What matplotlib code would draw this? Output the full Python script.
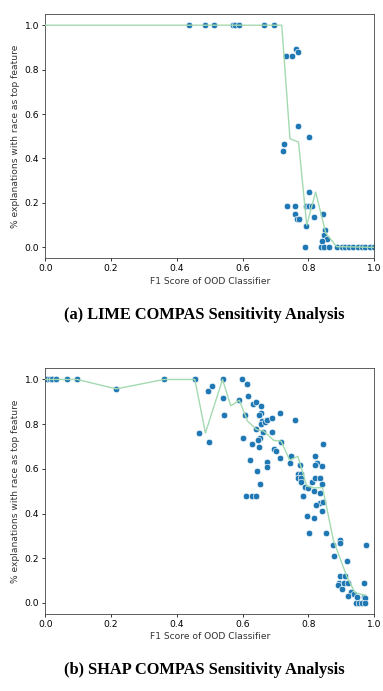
import matplotlib
matplotlib.use("Agg")
import matplotlib.pyplot as plt

# LIME panel: scatter points
lime_f1 = [0.437, 0.487, 0.513, 0.572, 0.577, 0.590, 0.664, 0.695,
           0.732, 0.750, 0.762, 0.767, 0.769, 0.803, 0.725, 0.724,
           0.735, 0.758, 0.758, 0.766, 0.772, 0.793, 0.803, 0.802, 0.812,
           0.792, 0.818, 0.843, 0.851, 0.848, 0.857, 0.842, 0.791,
           0.837, 0.848, 0.863, 0.886, 0.902, 0.912, 0.922, 0.937,
           0.952, 0.963, 0.973, 0.988, 0.998]
lime_pct = [1.0, 1.0, 1.0, 1.0, 1.0, 1.0, 1.0, 1.0,
            0.861, 0.861, 0.891, 0.880, 0.544, 0.495, 0.463, 0.435,
            0.187, 0.187, 0.148, 0.128, 0.127, 0.187, 0.247, 0.187, 0.187,
            0.097, 0.136, 0.148, 0.078, 0.055, 0.039, 0.030, 0.0,
            0.0, 0.0, 0.0, 0.0, 0.0, 0.0, 0.0, 0.0,
            0.0, 0.0, 0.0, 0.0, 0.0]
# LIME panel: trend line
lime_line_f1 = [0.0, 0.719, 0.744, 0.770, 0.795, 0.822, 0.853, 0.886, 0.998]
lime_line_pct = [1.0, 1.0, 0.489, 0.474, 0.10, 0.249, 0.063, 0.003, 0.0]

# SHAP panel: scatter points
shap_f1 = [0.007, 0.014, 0.022, 0.033, 0.067, 0.097, 0.216, 0.361, 0.455,
           0.456, 0.495, 0.507, 0.469, 0.497, 0.539, 0.541, 0.542,
           0.599, 0.614, 0.617, 0.590, 0.633, 0.641, 0.656, 0.657, 0.651,
           0.608, 0.658, 0.657, 0.668, 0.675, 0.688, 0.715, 0.760,
           0.641, 0.663, 0.690, 0.602, 0.653, 0.648, 0.629, 0.650,
           0.694, 0.703, 0.717, 0.715, 0.624, 0.675, 0.675, 0.645,
           0.747, 0.744, 0.654, 0.610, 0.628, 0.641,
           0.767, 0.779, 0.767, 0.779, 0.779, 0.791, 0.785,
           0.844, 0.820, 0.826, 0.820, 0.840, 0.776, 0.812, 0.821, 0.834,
           0.840, 0.790, 0.800, 0.817, 0.836, 0.784, 0.834, 0.844, 0.823,
           0.840, 0.796, 0.817, 0.803, 0.855, 0.876, 0.897, 0.897, 0.976,
           0.878, 0.916, 0.897, 0.912, 0.894, 0.907, 0.921, 0.891, 0.902,
           0.968, 0.930, 0.920, 0.940, 0.947, 0.968, 0.973,
           0.945, 0.953, 0.963, 0.973]
shap_pct = [1.0, 1.0, 1.0, 1.0, 1.0, 1.0, 0.958, 1.0, 1.0,
            1.0, 0.949, 0.970, 0.760, 0.721, 1.0, 0.919, 0.839,
            1.0, 0.979, 0.928, 0.907, 0.889, 0.898, 0.880, 0.848, 0.839,
            0.839, 0.815, 0.800, 0.810, 0.818, 0.828, 0.848, 0.818,
            0.779, 0.767, 0.767, 0.737, 0.737, 0.728, 0.709, 0.698,
            0.688, 0.679, 0.722, 0.648, 0.640, 0.630, 0.609, 0.590,
            0.658, 0.627, 0.530, 0.479, 0.479, 0.479,
            0.577, 0.577, 0.560, 0.560, 0.539, 0.517, 0.479,
            0.709, 0.658, 0.628, 0.619, 0.612, 0.619, 0.539, 0.560, 0.560,
            0.531, 0.518, 0.516, 0.500, 0.490, 0.479, 0.449, 0.451, 0.437,
            0.409, 0.391, 0.378, 0.311, 0.311, 0.258, 0.281, 0.269, 0.258,
            0.209, 0.188, 0.120, 0.120, 0.091, 0.091, 0.091, 0.079, 0.060,
            0.091, 0.049, 0.030, 0.039, 0.027, 0.027, 0.020,
            0.0, 0.0, 0.0, 0.0]
# SHAP panel: trend line
shap_line_f1 = [0.0, 0.097, 0.216, 0.361, 0.455, 0.487, 0.539, 0.564, 0.590,
                0.615, 0.642, 0.664, 0.695, 0.717, 0.743, 0.768, 0.795,
                0.817, 0.843, 0.876, 0.917, 0.942, 0.973]
shap_line_pct = [1.0, 1.0, 0.958, 1.0, 1.0, 0.760, 1.0, 0.882, 0.907,
                 0.814, 0.776, 0.769, 0.727, 0.724, 0.639, 0.656, 0.523,
                 0.515, 0.516, 0.281, 0.117, 0.045, 0.034]

captions = ["(a) LIME COMPAS Sensitivity Analysis",
            "(b) SHAP COMPAS Sensitivity Analysis"]
xlabel = "F1 Score of OOD Classifier"
ylabel = "% explanations with race as top feature"

dot_color = "#1f77b4"
line_color = "#a3dab0"
fs = 6.6

fig = plt.figure(figsize=(3.83, 6.91), dpi=100)
ax_top = fig.add_axes([0.118, 0.626, 0.859, 0.3536])
ax_bot = fig.add_axes([0.118, 0.1114, 0.859, 0.3556])

panels = [(ax_top, lime_f1, lime_pct, lime_line_f1, lime_line_pct),
          (ax_bot, shap_f1, shap_pct, shap_line_f1, shap_line_pct)]

for ax, xs, ys, lx, ly in panels:
    ax.scatter(xs, ys, s=22, color=dot_color, edgecolor="white",
               linewidth=0.45, zorder=2)
    ax.plot(lx, ly, color=line_color, linewidth=1.0, zorder=3)
    ax.set_xlim(0, 1)
    ax.set_ylim(-0.05, 1.05)
    ax.set_xticks([0.0, 0.2, 0.4, 0.6, 0.8, 1.0])
    ax.set_yticks([0.0, 0.2, 0.4, 0.6, 0.8, 1.0])
    ax.tick_params(labelsize=fs, length=2.3, width=0.55, pad=2)
    for sp in ax.spines.values():
        sp.set_linewidth(0.6)
        sp.set_color("#444444")
    ax.set_xlabel(xlabel, fontsize=fs, labelpad=2.5, color="#333333")
    ax.set_ylabel(ylabel, fontsize=fs, labelpad=3, color="#333333")

fig.text(0.533, 1 - 315 / 691, captions[0], ha="center", va="center",
         fontsize=11.8, fontweight="bold", family="Liberation Serif")
fig.text(0.533, 1 - 670 / 691, captions[1], ha="center", va="center",
         fontsize=11.8, fontweight="bold", family="Liberation Serif")

fig.savefig("out.png", dpi=100)
